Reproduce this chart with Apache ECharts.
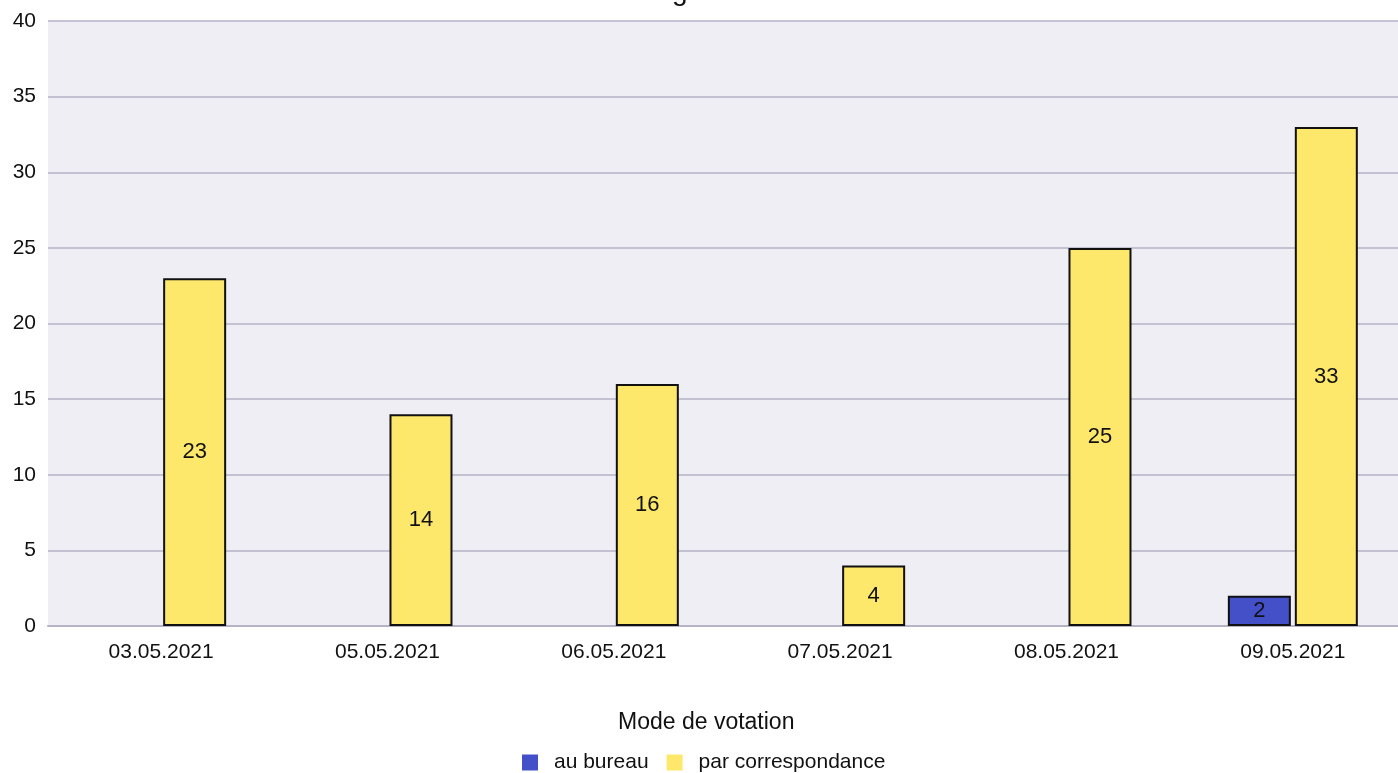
<!DOCTYPE html>
<html><head><meta charset="utf-8">
<script src="https://cdn.jsdelivr.net/npm/echarts@6/dist/echarts.min.js"></script>
<style>html,body{margin:0;padding:0;background:#fff;overflow:hidden}#c{width:1406px;height:773px}</style>
</head><body><div id="c"></div>
<script>
const categories = ['03.05.2021','05.05.2021','06.05.2021','07.05.2021','08.05.2021','09.05.2021'];
const auBureau = [0,0,0,0,0,2];
const parCorrespondance = [23,14,16,4,25,33];
const yTicks = [0,5,10,15,20,25,30,35,40];
const seriesNames = ['au bureau','par correspondance'];
const legendTitle = 'Mode de votation';
const chartTitle = 'Votes enregistrés';

const chart = echarts.init(document.getElementById('c'), null, {renderer:'canvas'});
const font = 'Liberation Sans, Arial, sans-serif';
const labelCfg = {show:true, position:'inside', color:'#111', fontSize:22, fontFamily:font,
  formatter: p => (p.value ? p.value : '')};
chart.setOption({
  animation:false,
  title:[
    {text:chartTitle, left:533, top:-27, textStyle:{fontSize:28, fontWeight:'normal', color:'#111', fontFamily:font}},
    {text:legendTitle, left:613, top:706, textStyle:{fontSize:23, fontWeight:'normal', color:'#111', fontFamily:font}}
  ],
  grid:{left:48, top:21, right:0, height:605, show:true, backgroundColor:'#efeef4', borderWidth:0, containLabel:false},
  legend:{bottom:-5, left:517, itemWidth:16, itemHeight:16, itemGap:18, icon:'rect',
    itemStyle:{borderWidth:0},
    textStyle:{fontSize:21, fontFamily:font, color:'#111', padding:[0,0,0,11]},
    data:seriesNames},
  xAxis:{type:'category', data:categories,
    axisLine:{show:true, lineStyle:{color:'#b4b3c8', width:2}},
    axisTick:{show:false},
    axisLabel:{fontSize:21, fontFamily:font, color:'#111', margin:16}},
  yAxis:{type:'value', min:0, max:40, interval:5,
    axisLine:{show:false}, axisTick:{show:false},
    splitLine:{lineStyle:{color:'#b4b3c8', width:1.5}},
    axisLabel:{fontSize:21, fontFamily:font, color:'#111', margin:12,
      formatter: v => (yTicks.includes(v) ? String(v) : '')}},
  series:[
    {name:seriesNames[0], type:'bar', barWidth:63, barGap:'6.3%',
      itemStyle:{color:'#4350c8', borderColor:'#111', borderWidth:2},
      label:labelCfg, data:auBureau.map(v => v === 0 ? '-' : v)},
    {name:seriesNames[1], type:'bar', barWidth:63, barGap:'6.3%',
      itemStyle:{color:'#fde86b', borderColor:'#111', borderWidth:2},
      label:labelCfg, data:parCorrespondance.map(v => v === 0 ? '-' : v)}
  ]
});
</script></body></html>
